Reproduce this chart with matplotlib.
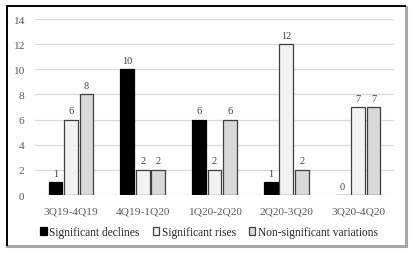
import matplotlib
matplotlib.use("Agg")
import matplotlib.pyplot as plt
import numpy as np
from matplotlib.lines import Line2D

categories = ["3Q19-4Q19", "4Q19-1Q20", "1Q20-2Q20", "2Q20-3Q20", "3Q20-4Q20"]
declines = [1, 10, 6, 1, 0]
rises = [6, 2, 2, 12, 7]
nonsig = [8, 2, 6, 2, 7]
series_names = ["Significant declines", "Significant rises", "Non-significant variations"]
yticks = [0, 2, 4, 6, 8, 10, 12, 14]

plt.rcParams['font.family'] = ['Liberation Serif', 'DejaVu Serif']

W, H = 414, 255
fig = plt.figure(figsize=(W/100, H/100), dpi=100)
ax = fig.add_axes([35/W, 1-196/H, (394-35)/W, (196-20)/H])

x = np.arange(len(categories))
w = 0.19
off = 0.216
fills = ["#000000", "#f2f2f2", "#d9d9d9"]
edge = "#404040"
txtc = "#404040"
for k, (vals, fc) in enumerate(zip([declines, rises, nonsig], fills)):
    bars = ax.bar(x + (k-1)*off, vals, width=w, color=fc, edgecolor=edge if k else "#000000",
                  linewidth=0.9, label=series_names[k], zorder=3)
    for xi, v in zip(x + (k-1)*off, vals):
        ax.text(xi, v + 0.35, str(v), ha='center', va='bottom', fontsize=7.5, color=txtc)

ax.set_xlim(-0.5, len(categories)-0.5)
ax.set_ylim(0, 14)
ax.set_yticks(yticks)
ax.set_xticks(x)
ax.set_xticklabels(categories)
ax.tick_params(axis='both', length=0, labelsize=8.2, colors="#595959")
ax.tick_params(axis='y', pad=7.5)
ax.tick_params(axis='x', pad=8)
for s in ax.spines.values():
    s.set_visible(False)
ax.grid(axis='y', color="#d9d9d9", linewidth=0.9, zorder=0)
ax.set_axisbelow(True)

fig.legend(loc='center', bbox_to_anchor=(209/W, 1-233/H), ncol=3, frameon=False,
           fontsize=8.3, handlelength=0.6, handleheight=0.6, handletextpad=0.2,
           columnspacing=1.1, labelcolor="#262626")

# frame
def fl(x0, y0, x1, y1, c, lw):
    fig.add_artist(Line2D([x0/W, x1/W], [1-y0/H, 1-y1/H], color=c, linewidth=lw,
                          transform=fig.transFigure, solid_capstyle='projecting'))
fl(406, 247, 406, 8, "#a6a6a6", 2.2)
fl(7, 247, 406, 247, "#a6a6a6", 2.2)
fl(7, 7, 405, 7, "#000000", 1.4)
fl(7, 7, 7, 246, "#000000", 1.4)

fig.savefig("out.png", dpi=100)
